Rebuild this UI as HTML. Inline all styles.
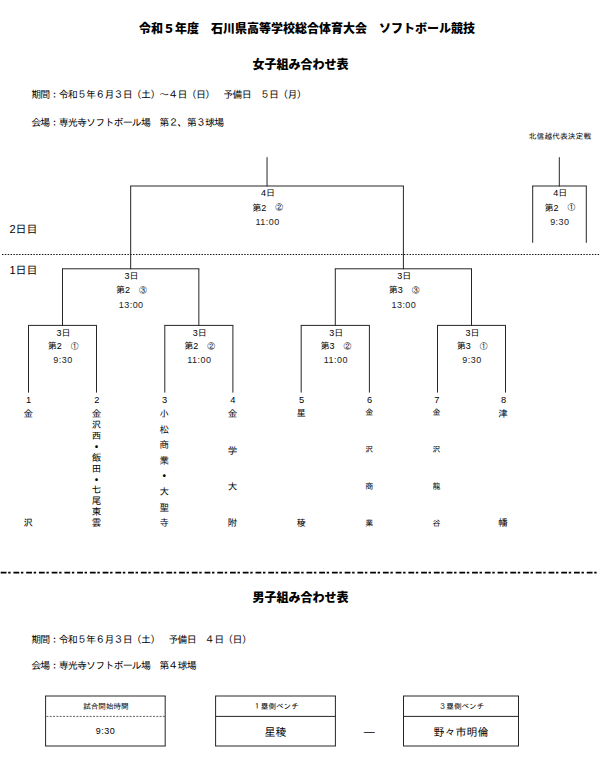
<!DOCTYPE html>
<html lang="ja"><head><meta charset="utf-8"><title>石川県高等学校総合体育大会 ソフトボール競技</title>
<style>
html,body{margin:0;padding:0;background:#fff}
body{width:600px;height:759px;position:relative;overflow:hidden;font-family:"Liberation Sans","IPAGothic","Noto Sans CJK JP",sans-serif;color:#000}
.l{position:absolute}
.t{position:absolute;white-space:nowrap;font-family:"Liberation Sans","IPAGothic","Noto Sans CJK JP",sans-serif;color:#000}
.h{position:absolute;white-space:nowrap;font-family:"Liberation Sans","Noto Sans CJK JP",sans-serif;font-weight:900;color:#000}
.v{position:absolute;display:flex;flex-direction:column;justify-content:space-between;align-items:center;font-family:"Liberation Sans","IPAGothic","Noto Sans CJK JP",sans-serif;color:#000}
.v span{display:block;line-height:1;height:1em}
.v span.d{font-family:"Noto Sans CJK JP",sans-serif;font-weight:900}
</style></head><body>
<svg class="l" style="left:0;top:0" width="600" height="759" viewBox="0 0 600 759" fill="none" stroke="#262626" stroke-width="1">
<line x1="267.0375" y1="157.2" x2="267.0375" y2="186.5"/>
<line x1="130.175" y1="186.0" x2="403.9" y2="186.0"/>
<line x1="130.675" y1="186.0" x2="130.675" y2="269.3"/>
<line x1="403.4" y1="186.0" x2="403.4" y2="269.3"/>
<line x1="62.0" y1="268.8" x2="199.35000000000002" y2="268.8"/>
<line x1="334.79999999999995" y1="268.8" x2="472.0" y2="268.8"/>
<line x1="62.5" y1="268.8" x2="62.5" y2="325.9"/>
<line x1="198.85000000000002" y1="268.8" x2="198.85000000000002" y2="325.9"/>
<line x1="335.29999999999995" y1="268.8" x2="335.29999999999995" y2="325.9"/>
<line x1="471.5" y1="268.8" x2="471.5" y2="325.9"/>
<line x1="28.0" y1="325.4" x2="97.0" y2="325.4"/>
<line x1="164.3" y1="325.4" x2="233.4" y2="325.4"/>
<line x1="300.7" y1="325.4" x2="369.9" y2="325.4"/>
<line x1="437.0" y1="325.4" x2="506.0" y2="325.4"/>
<line x1="28.5" y1="325.4" x2="28.5" y2="392.6"/>
<line x1="96.5" y1="325.4" x2="96.5" y2="392.6"/>
<line x1="164.8" y1="325.4" x2="164.8" y2="392.6"/>
<line x1="232.9" y1="325.4" x2="232.9" y2="392.6"/>
<line x1="301.2" y1="325.4" x2="301.2" y2="392.6"/>
<line x1="369.4" y1="325.4" x2="369.4" y2="392.6"/>
<line x1="437.5" y1="325.4" x2="437.5" y2="392.6"/>
<line x1="505.5" y1="325.4" x2="505.5" y2="392.6"/>
<line x1="559.3" y1="157.2" x2="559.3" y2="186.5"/>
<line x1="532.2" y1="186.0" x2="586.8" y2="186.0"/>
<line x1="532.7" y1="186.0" x2="532.7" y2="242.8"/>
<line x1="586.3" y1="186.0" x2="586.3" y2="242.8"/>
<line x1="45.1" y1="696.0" x2="165.7" y2="696.0"/>
<line x1="45.1" y1="746.0" x2="165.7" y2="746.0"/>
<line x1="45.6" y1="696.0" x2="45.6" y2="746.0"/>
<line x1="165.2" y1="696.0" x2="165.2" y2="746.0"/>
<line x1="45.6" y1="716.4" x2="165.2" y2="716.4" stroke="#606060" stroke-dasharray="2 1.33" stroke-dashoffset="-0.8"/>
<line x1="215.1" y1="696.0" x2="335.9" y2="696.0"/>
<line x1="215.1" y1="746.0" x2="335.9" y2="746.0"/>
<line x1="215.6" y1="696.0" x2="215.6" y2="746.0"/>
<line x1="335.4" y1="696.0" x2="335.4" y2="746.0"/>
<line x1="215.6" y1="716.4" x2="335.4" y2="716.4"/>
<line x1="403.0" y1="696.0" x2="519.0" y2="696.0"/>
<line x1="403.0" y1="746.0" x2="519.0" y2="746.0"/>
<line x1="403.5" y1="696.0" x2="403.5" y2="746.0"/>
<line x1="518.5" y1="696.0" x2="518.5" y2="746.0"/>
<line x1="403.5" y1="716.4" x2="518.5" y2="716.4"/>
</svg>
<div class="h" style="left:7px;top:18.7px;width:600px;height:20px;line-height:20px;font-size:12px;text-align:center;">令和５年度　石川県高等学校総合体育大会　ソフトボール競技</div>
<div class="h" style="left:0.5px;top:55px;width:600px;height:20px;line-height:20px;font-size:12px;text-align:center;">女子組み合わせ表</div>
<div class="t" style="left:31.2px;top:85px;height:20px;line-height:20px;font-size:10px;letter-spacing:-0.85px;">期間：令和５年６月３日（土）～４日（日）　予備日　５日（月）</div>
<div class="t" style="left:31.2px;top:113px;height:20px;line-height:20px;font-size:10px;letter-spacing:-0.85px;">会場：専光寺ソフトボール場　第２、第３球場</div>
<div class="t" style="left:260px;top:126.5px;width:600px;height:20px;line-height:20px;font-size:7.8px;text-align:center;">北信越代表決定戦</div>
<svg class="l" style="left:0;top:250px" width="600" height="10"><line x1="2.0" y1="4.5" x2="600" y2="4.5" stroke="#111" stroke-width="1.1" stroke-dasharray="1.45 1.4"/></svg>
<div class="t" style="left:-32.06249999999994px;top:183.2px;width:600px;height:20px;line-height:20px;font-size:9px;text-align:center;">4日</div>
<div class="t" style="left:-32.26249999999999px;top:197.5px;width:600px;height:20px;line-height:20px;font-size:9px;text-align:center;">第2　<span style="font-size:7.8px;position:relative;top:-0.4px">②</span></div>
<div class="t" style="left:-32.46249999999998px;top:211.8px;width:600px;height:20px;line-height:20px;font-size:9px;text-align:center;letter-spacing:0.45px;color:#1a1a1a;">11:00</div>
<div class="t" style="left:260.20000000000005px;top:183.2px;width:600px;height:20px;line-height:20px;font-size:9px;text-align:center;">4日</div>
<div class="t" style="left:260.0px;top:197.5px;width:600px;height:20px;line-height:20px;font-size:9px;text-align:center;">第2　<span style="font-size:7.8px;position:relative;top:-0.4px">①</span></div>
<div class="t" style="left:259.80000000000007px;top:211.8px;width:600px;height:20px;line-height:20px;font-size:9px;text-align:center;letter-spacing:0.45px;color:#1a1a1a;">9:30</div>
<div class="t" style="left:-168.42499999999998px;top:266.2px;width:600px;height:20px;line-height:20px;font-size:9px;text-align:center;">3日</div>
<div class="t" style="left:-168.62499999999997px;top:280.4px;width:600px;height:20px;line-height:20px;font-size:9px;text-align:center;">第2　<span style="font-size:7.8px;position:relative;top:-0.4px">③</span></div>
<div class="t" style="left:-168.825px;top:294.6px;width:600px;height:20px;line-height:20px;font-size:9px;text-align:center;letter-spacing:0.45px;color:#1a1a1a;">13:00</div>
<div class="t" style="left:104.30000000000001px;top:266.2px;width:600px;height:20px;line-height:20px;font-size:9px;text-align:center;">3日</div>
<div class="t" style="left:104.09999999999997px;top:280.4px;width:600px;height:20px;line-height:20px;font-size:9px;text-align:center;">第3　<span style="font-size:7.8px;position:relative;top:-0.4px">③</span></div>
<div class="t" style="left:103.89999999999998px;top:294.6px;width:600px;height:20px;line-height:20px;font-size:9px;text-align:center;letter-spacing:0.45px;color:#1a1a1a;">13:00</div>
<div class="t" style="left:-236.6px;top:322.7px;width:600px;height:20px;line-height:20px;font-size:9px;text-align:center;">3日</div>
<div class="t" style="left:-236.8px;top:336.3px;width:600px;height:20px;line-height:20px;font-size:9px;text-align:center;">第2　<span style="font-size:7.8px;position:relative;top:-0.4px">①</span></div>
<div class="t" style="left:-237.0px;top:349.9px;width:600px;height:20px;line-height:20px;font-size:9px;text-align:center;letter-spacing:0.45px;color:#1a1a1a;">9:30</div>
<div class="t" style="left:-100.24999999999997px;top:322.7px;width:600px;height:20px;line-height:20px;font-size:9px;text-align:center;">3日</div>
<div class="t" style="left:-100.44999999999996px;top:336.3px;width:600px;height:20px;line-height:20px;font-size:9px;text-align:center;">第2　<span style="font-size:7.8px;position:relative;top:-0.4px">②</span></div>
<div class="t" style="left:-100.64999999999998px;top:349.9px;width:600px;height:20px;line-height:20px;font-size:9px;text-align:center;letter-spacing:0.45px;color:#1a1a1a;">11:00</div>
<div class="t" style="left:36.19999999999999px;top:322.7px;width:600px;height:20px;line-height:20px;font-size:9px;text-align:center;">3日</div>
<div class="t" style="left:35.99999999999994px;top:336.3px;width:600px;height:20px;line-height:20px;font-size:9px;text-align:center;">第3　<span style="font-size:7.8px;position:relative;top:-0.4px">②</span></div>
<div class="t" style="left:35.799999999999955px;top:349.9px;width:600px;height:20px;line-height:20px;font-size:9px;text-align:center;letter-spacing:0.45px;color:#1a1a1a;">11:00</div>
<div class="t" style="left:172.40000000000003px;top:322.7px;width:600px;height:20px;line-height:20px;font-size:9px;text-align:center;">3日</div>
<div class="t" style="left:172.2px;top:336.3px;width:600px;height:20px;line-height:20px;font-size:9px;text-align:center;">第3　<span style="font-size:7.8px;position:relative;top:-0.4px">①</span></div>
<div class="t" style="left:172.0px;top:349.9px;width:600px;height:20px;line-height:20px;font-size:9px;text-align:center;letter-spacing:0.45px;color:#1a1a1a;">9:30</div>
<div class="t" style="left:9.5px;top:218.7px;height:20px;line-height:20px;font-size:11px;">2日目</div>
<div class="t" style="left:9.5px;top:259.7px;height:20px;line-height:20px;font-size:11px;">1日目</div>
<div class="t" style="left:-271.5px;top:390.3px;width:600px;height:20px;line-height:20px;font-size:9.3px;text-align:center;">1</div>
<div class="v" style="left:18.2px;top:409.2px;width:20px;height:118.5px;font-size:9.5px;"><span>金</span><span>沢</span></div>
<div class="t" style="left:-203.2px;top:390.3px;width:600px;height:20px;line-height:20px;font-size:9.3px;text-align:center;">2</div>
<div class="v" style="left:86.5px;top:409.2px;width:20px;height:118.5px;font-size:9.5px;"><span>金</span><span>沢</span><span>西</span><span class="d">・</span><span>飯</span><span>田</span><span class="d">・</span><span>七</span><span>尾</span><span>東</span><span>雲</span></div>
<div class="t" style="left:-135.39999999999998px;top:390.3px;width:600px;height:20px;line-height:20px;font-size:9.3px;text-align:center;">3</div>
<div class="v" style="left:154.3px;top:409.2px;width:20px;height:118.5px;font-size:9.5px;"><span>小</span><span>松</span><span>商</span><span>業</span><span class="d">・</span><span>大</span><span>聖</span><span>寺</span></div>
<div class="t" style="left:-67.19999999999999px;top:390.3px;width:600px;height:20px;line-height:20px;font-size:9.3px;text-align:center;">4</div>
<div class="v" style="left:222.5px;top:409.2px;width:20px;height:118.5px;font-size:9.5px;"><span>金</span><span>学</span><span>大</span><span>附</span></div>
<div class="t" style="left:1.5px;top:390.3px;width:600px;height:20px;line-height:20px;font-size:9.3px;text-align:center;">5</div>
<div class="v" style="left:291.2px;top:409.2px;width:20px;height:118.5px;font-size:9px;"><span>星</span><span>稜</span></div>
<div class="t" style="left:69.5px;top:390.3px;width:600px;height:20px;line-height:20px;font-size:9.3px;text-align:center;">6</div>
<div class="v" style="left:359.2px;top:409.2px;width:20px;height:118.5px;font-size:8px;"><span>金</span><span>沢</span><span>商</span><span>業</span></div>
<div class="t" style="left:136.8px;top:390.3px;width:600px;height:20px;line-height:20px;font-size:9.3px;text-align:center;">7</div>
<div class="v" style="left:426.5px;top:409.2px;width:20px;height:118.5px;font-size:8px;"><span>金</span><span>沢</span><span>龍</span><span>谷</span></div>
<div class="t" style="left:203.60000000000002px;top:390.3px;width:600px;height:20px;line-height:20px;font-size:9.3px;text-align:center;">8</div>
<div class="v" style="left:493.0px;top:409.2px;width:20px;height:118.5px;font-size:9.5px;"><span>津</span><span>幡</span></div>
<svg class="l" style="left:0;top:568px" width="600" height="10"><line x1="0.7" y1="4.6" x2="598.2" y2="4.6" stroke="#000" stroke-width="1.7" stroke-dasharray="5.8 1.7 2.4 2.84"/></svg>
<div class="h" style="left:0.5px;top:587.5px;width:600px;height:20px;line-height:20px;font-size:12px;text-align:center;">男子組み合わせ表</div>
<div class="t" style="left:31.2px;top:629.5px;height:20px;line-height:20px;font-size:10px;letter-spacing:-0.85px;">期間：令和５年６月３日（土）　予備日　４日（日）</div>
<div class="t" style="left:31.2px;top:655.5px;height:20px;line-height:20px;font-size:10px;letter-spacing:-0.85px;">会場：専光寺ソフトボール場　第４球場</div>
<div class="t" style="left:-194.10000000000002px;top:696.8px;width:600px;height:20px;line-height:20px;font-size:7.6px;text-align:center;">試合開始時間</div>
<div class="t" style="left:-194.60000000000002px;top:721.2px;width:600px;height:20px;line-height:20px;font-size:9px;text-align:center;letter-spacing:0.5px;">9:30</div>
<div class="t" style="left:-24.0px;top:696.8px;width:600px;height:20px;line-height:20px;font-size:7.6px;text-align:center;">１塁側ベンチ</div>
<div class="t" style="left:-24.5px;top:722px;width:600px;height:20px;line-height:20px;font-size:11px;text-align:center;">星稜</div>
<div class="t" style="left:161.5px;top:696.8px;width:600px;height:20px;line-height:20px;font-size:7.6px;text-align:center;">３塁側ベンチ</div>
<div class="t" style="left:161.0px;top:722px;width:600px;height:20px;line-height:20px;font-size:11px;text-align:center;">野々市明倫</div>
<div class="t" style="left:69.30000000000001px;top:721px;width:600px;height:20px;line-height:20px;font-size:11px;text-align:center;">―</div>
</body></html>
